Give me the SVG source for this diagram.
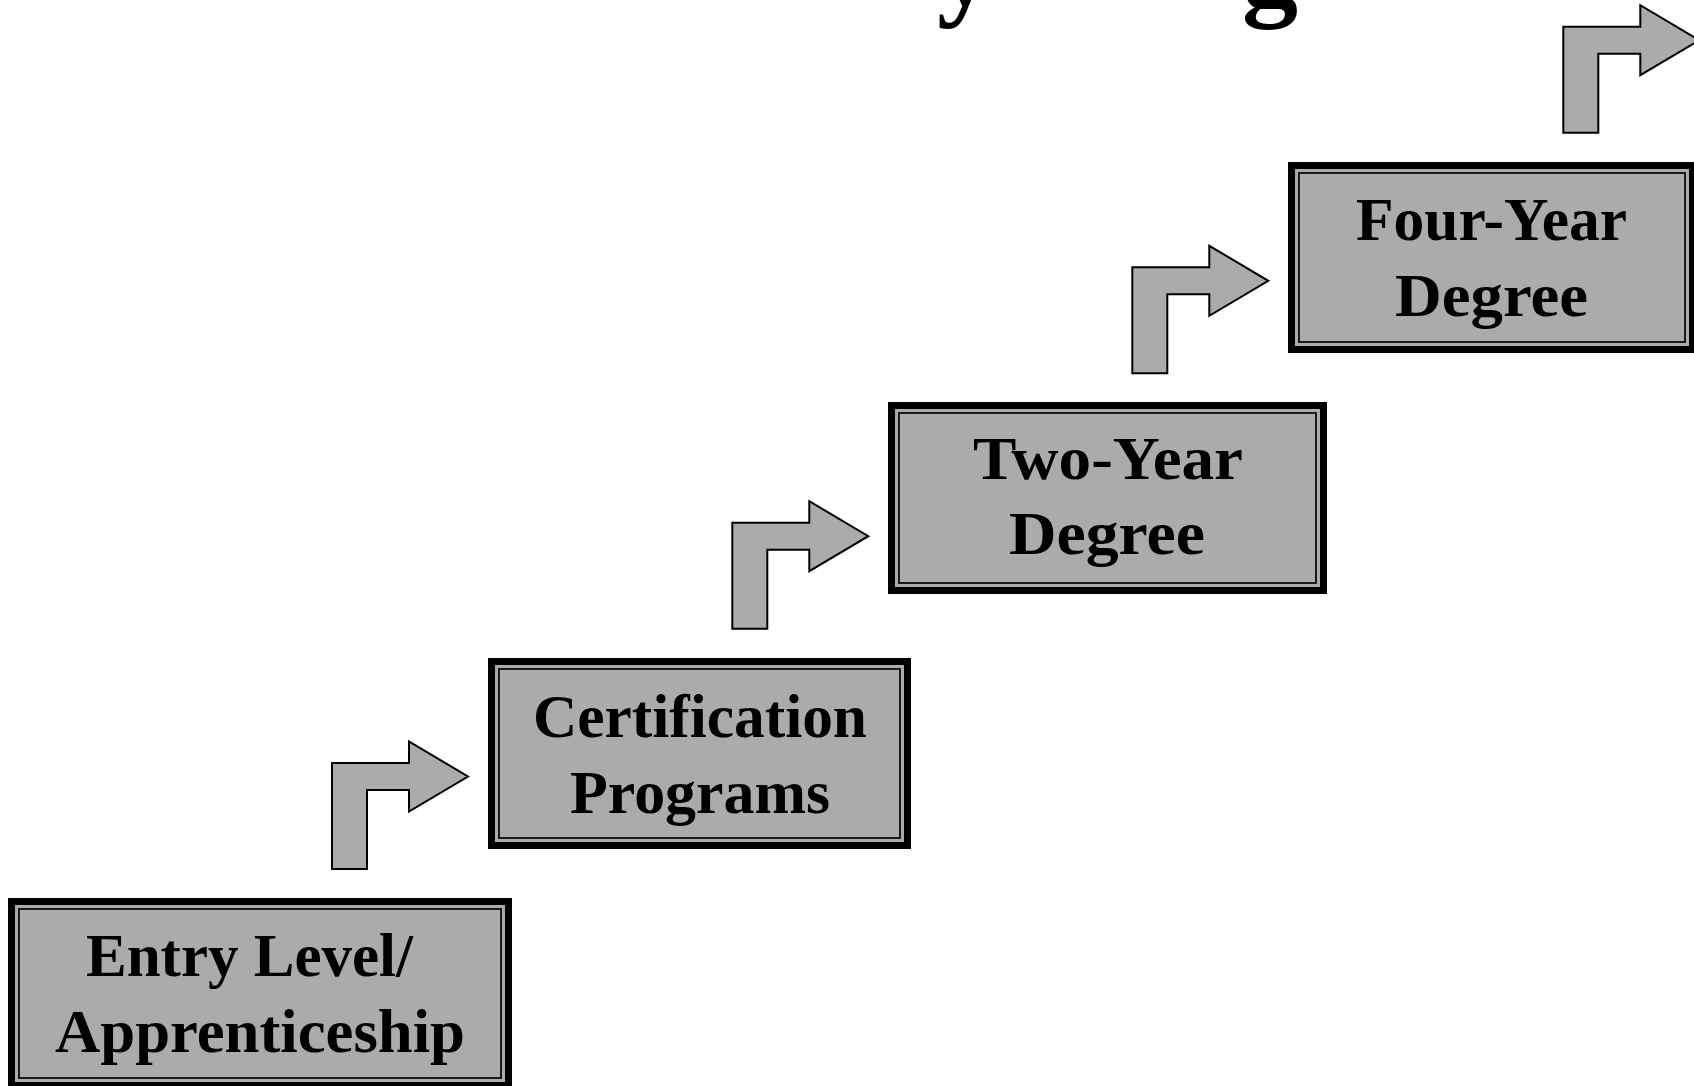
<svg xmlns="http://www.w3.org/2000/svg" width="1694" height="1086" viewBox="0 0 1694 1086">
  <style>
    .outer { fill: #ababab; stroke: #000; stroke-width: 7; }
    .inner { fill: none; stroke: #1a1a1a; stroke-width: 2; }
    .label { font-family: "Liberation Serif", "Times New Roman", serif; font-weight: bold; font-size: 62px; fill: #000; }
    .title { font-family: "Liberation Serif", "Times New Roman", serif; font-weight: bold; font-size: 112px; fill: #000; }
    .arrow { fill: #ababab; stroke: #000; stroke-width: 2; stroke-linejoin: miter; }
  </style>
  <defs>
    <polygon id="bend-arrow" class="arrow" points="0,106 0,0 77,0 77,-21.5 136,13.5 77,48.5 77,27 35,27 35,106"/>
  </defs>
  <rect width="1694" height="1086" fill="#fff"/>

  <g id="title">
    <text class="title" x="937" y="5">y</text>
    <text class="title" x="1242" y="5">g</text>
  </g>

  <g id="connectors">
    <use href="#bend-arrow" transform="translate(332,763)"/>
    <use href="#bend-arrow" transform="translate(732.3,522.7)"/>
    <use href="#bend-arrow" transform="translate(1132.3,267.3)"/>
    <use href="#bend-arrow" transform="translate(1563.3,26.7)"/>
  </g>

  <g id="node-entry">
    <rect class="outer" x="11.5" y="901.5" width="497" height="184"/>
    <rect class="inner" x="19" y="909" width="482" height="169"/>
    <text class="label" x="86" y="976" textLength="327" lengthAdjust="spacingAndGlyphs">Entry Level/</text>
    <text class="label" x="55" y="1052" textLength="410" lengthAdjust="spacingAndGlyphs">Apprenticeship</text>
  </g>

  <g id="node-certification">
    <rect class="outer" x="491.5" y="661.5" width="416" height="184"/>
    <rect class="inner" x="499" y="669" width="401" height="169"/>
    <text class="label" x="533" y="737" textLength="334" lengthAdjust="spacingAndGlyphs">Certification</text>
    <text class="label" x="570" y="813" textLength="260" lengthAdjust="spacingAndGlyphs">Programs</text>
  </g>

  <g id="node-two-year">
    <rect class="outer" x="891.5" y="405.5" width="432" height="185"/>
    <rect class="inner" x="899" y="413" width="417" height="170"/>
    <text class="label" x="973" y="479" textLength="270" lengthAdjust="spacingAndGlyphs">Two-Year</text>
    <text class="label" x="1009" y="554" textLength="196" lengthAdjust="spacingAndGlyphs">Degree</text>
  </g>

  <g id="node-four-year">
    <rect class="outer" x="1291.5" y="165.5" width="401" height="184"/>
    <rect class="inner" x="1299" y="173" width="386" height="169"/>
    <text class="label" x="1356" y="240" textLength="271" lengthAdjust="spacingAndGlyphs">Four-Year</text>
    <text class="label" x="1395" y="316" textLength="193" lengthAdjust="spacingAndGlyphs">Degree</text>
  </g>
</svg>
